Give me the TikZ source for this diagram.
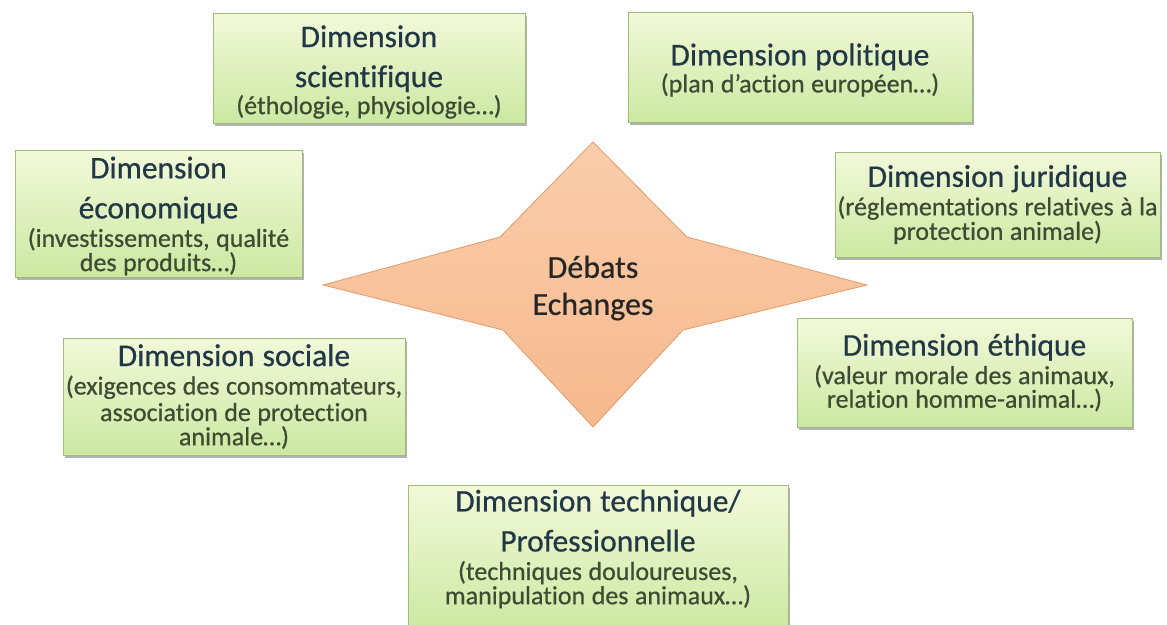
\documentclass[tikz,border=0pt]{standalone}
\usepackage{fontspec}
\setmainfont{Carlito}[Ligatures=NoCommon, FakeBold=0.6]
\usetikzlibrary{shadows}
\definecolor{boxtop}{HTML}{F2F9D9}
\definecolor{boxbot}{HTML}{CCE8A2}
\definecolor{boxborder}{HTML}{9FBC7C}
\definecolor{titlecol}{HTML}{223847}
\definecolor{subcol}{HTML}{3E4C34}
\definecolor{startop}{HTML}{FACDAB}
\definecolor{starbot}{HTML}{F6B98E}
\definecolor{starborder}{HTML}{E39A68}
\definecolor{startext}{HTML}{262626}
\newcommand{\dimtitle}{\fontsize{31.5pt}{40pt}\selectfont\spaceskip=0.26em\color{titlecol}}
\newcommand{\dimsub}{\fontsize{26pt}{26.5pt}\selectfont\spaceskip=0.25em\color{subcol}}
\tikzset{
  dimbox/.style={draw=boxborder, line width=0.8pt, top color=boxtop, bottom color=boxbot,
    inner sep=0pt, drop shadow={shadow xshift=2pt, shadow yshift=-2.5pt, fill=black, opacity=0.3}},
  dimtext/.style={inner sep=0pt, text width=440pt, align=center},
  starshape/.style={draw=starborder, line width=0.8pt, top color=startop, bottom color=starbot,
    line join=miter},
}
\begin{document}
\begin{tikzpicture}[x=1pt,y=-1pt]
\useasboundingbox (0,0) rectangle (1167,624);
\fill[white] (0,0) rectangle (1167,624);

% central star
\path[starshape] (593,142) coordinate (sTop) -- (687,237) coordinate (sUR) -- (867,285) coordinate (sR)
  -- (683,330) coordinate (sLR) -- (593,427) coordinate (sBot) -- (503,330) coordinate (sLL)
  -- (323,285) coordinate (sL) -- (500,237) coordinate (sUL) -- cycle;
\node[inner sep=0pt, align=center, font=\fontsize{32pt}{37pt}\selectfont, text=startext] (deb) at (593,288) {Débats\\Echanges};

% boxes
\node[dimbox, minimum width=312pt, minimum height=110pt] (sci) at (369,68) {};
\node[dimtext] (sciT) at (369,72) {\dimtitle Dimension\\scientifique\par\vspace{2pt}\dimsub (éthologie, physiologie…)};

\node[dimbox, minimum width=344pt, minimum height=110pt] (pol) at (800,67) {};
\node[dimtext] (polT) at (800,70) {\dimtitle Dimension politique\par\vspace{2pt}\dimsub (plan d’action européen…)};

\node[dimbox, minimum width=287pt, minimum height=127pt] (eco) at (158.5,213.5) {};
\node[dimtext] (ecoT) at (158.5,216) {\dimtitle Dimension\\économique\par\vspace{2pt}\dimsub (investissements, qualité\\des produits…)};

\node[dimbox, minimum width=325pt, minimum height=105pt] (jur) at (997.5,204.5) {};
\node[dimtext] (jurT) at (jur.center) {\dimtitle Dimension juridique\par\vspace{2pt}\dimsub (réglementations relatives à la\\protection animale)};

\node[dimbox, minimum width=342pt, minimum height=117pt] (soc) at (234,396.5) {};
\node[dimtext] (socT) at (soc.center) {\dimtitle Dimension sociale\par\vspace{2pt}\dimsub (exigences des consommateurs,\\association de protection\\animale…)};

\node[dimbox, minimum width=335pt, minimum height=109pt] (eth) at (964.5,372.5) {};
\node[dimtext] (ethT) at (eth.center) {\dimtitle Dimension éthique\par\vspace{2pt}\dimsub (valeur morale des animaux,\\relation homme-animal…)};

\node[dimbox, minimum width=380pt, minimum height=147pt] (tech) at (598,558.5) {};
\node[dimtext] (techT) at (598,549) {\dimtitle Dimension technique/\\Professionnelle\par\vspace{2pt}\dimsub (techniques douloureuses,\\manipulation des animaux…)};
\end{tikzpicture}
\end{document}
